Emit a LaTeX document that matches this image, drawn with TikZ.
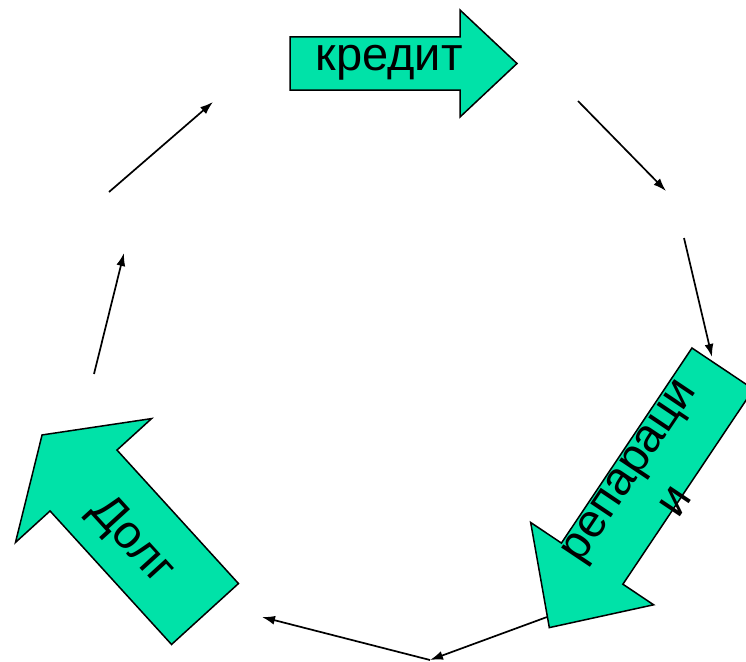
\documentclass[tikz,border=0pt]{standalone}
\usepackage{fontspec}
\setmainfont{Liberation Sans}
\usetikzlibrary{arrows.meta}
\definecolor{mint}{RGB}{0,226,168}

\begin{document}
\begin{tikzpicture}[x=1pt,y=-1pt]
        \tikzset{edge/.style = {-{Latex[length=13pt,width=9pt]}, line width=1.7pt}}
        \tikzset{block/.style = {draw=black, fill=mint, line width=1.5pt, line join=miter}}
        \tikzset{arrowtext/.style = {font=\fontsize{47}{57}\selectfont, align=center, inner sep=0pt}}

        \useasboundingbox (0,0) rectangle (746,661);

        % ends of the thin arrows
        \foreach \n/\x/\y in {a/578/101, b/666/191, c/684/238, d/712/357,
                              e/547/617, f/430/660, g/262/617,
                              h/94/374, i/124/253, j/109/192, k/213/102}
            \coordinate (\n) at (\x,\y);

        % thin arrows
        \foreach \p/\q in {a/b, c/d, e/f, f/g, h/i, j/k}
            \draw[edge] (\p) to (\q);

        % block arrows: tail, angle, body length, body half width, head half width, head length
        \foreach \x/\y/\r/\lb/\wb/\wh/\lh in {290/63.5/0/170/26.5/53.5/57,
                                              722.7/368.6/236.2/234.7/37/74/77,
                                              205/614/132.3/180.5/45.25/92/61.6}
            \draw[block, shift={(\x,\y)}, rotate=\r]
                (0,-\wb) -- (\lb,-\wb) -- (\lb,-\wh) -- (\lb+\lh,0)
                -- (\lb,\wh) -- (\lb,\wb) -- (0,\wb) -- cycle;

        % texts
        \node[arrowtext] (kredit) at (389,63) {кредит};
        \node[arrowtext, rotate=56.2] (reparacii) at (652,486) {репараци\\и};
        \node[arrowtext, rotate=-47.7] (dolg) at (131,541) {Долг};

    \end{tikzpicture}
\end{document}
